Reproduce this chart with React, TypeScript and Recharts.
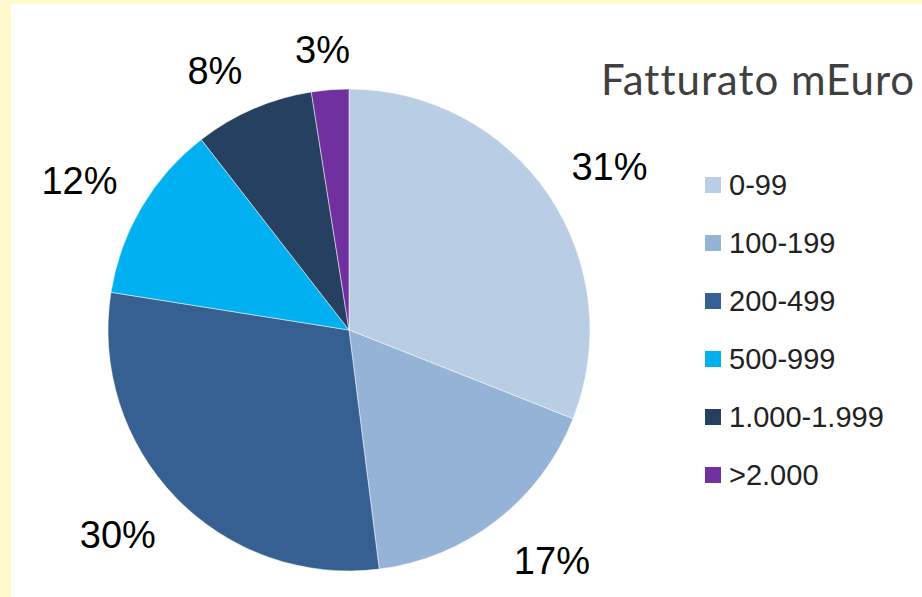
import React from 'react';
import { PieChart, Pie, Cell, Legend } from 'recharts';

const CATEGORIES = ['0-99', '100-199', '200-499', '500-999', '1.000-1.999', '>2.000'];
const SHARES = [31, 17, 29.5, 12, 8, 2.5];
const COLORS = ['#B9CDE5', '#95B3D7', '#376092', '#00B0F0', '#254061', '#7030A0'];
const TITLE = 'Fatturato mEuro';

const data = CATEGORIES.map((name, i) => ({ name, value: SHARES[i], fill: COLORS[i] }));

const RAD = Math.PI / 180;
const LABEL_SIZE = 38;

const clamp = (t: number) => Math.max(-1, Math.min(1, t));

// Excel-style "outside end" labels: anchor just past the rim, then slide the
// text box outward so its near corner sits on the anchor
const renderLabel = (props: any) => {
  const { cx, cy, midAngle, outerRadius, value } = props;
  const text = `${Math.round(value)}%`;
  const dx = Math.cos(-midAngle * RAD);
  const dy = Math.sin(-midAngle * RAD);
  const halfW = (((text.length - 1) * 0.556 + 0.889) * LABEL_SIZE) / 2;
  const halfH = 15;
  const r = outerRadius + 28;
  const x = cx + r * dx + clamp(dx * 2.5) * halfW;
  const y = cy + r * dy + clamp(dy * 2.5) * halfH + 3;
  return (
    <text
      x={x}
      y={y}
      textAnchor="middle"
      dominantBaseline="central"
      fill="#000"
      fontSize={LABEL_SIZE}
      fontFamily="'Liberation Sans', Arial, sans-serif"
    >
      {text}
    </text>
  );
};

const renderLegend = (props: any) => {
  const payload = [...(props.payload || [])].sort(
    (a: any, b: any) => CATEGORIES.indexOf(a.value) - CATEGORIES.indexOf(b.value)
  );
  return (
    <div style={{ fontFamily: "'Liberation Sans', Arial, sans-serif" }}>
      {payload.map((entry: any, i: number) => (
        <div key={i} style={{ display: 'flex', alignItems: 'center', height: 58 }}>
          <span style={{ width: 16, height: 16, background: entry.color, display: 'inline-block', marginRight: 8 }} />
          <span style={{ fontSize: 29, color: '#222' }}>{entry.value}</span>
        </div>
      ))}
    </div>
  );
};

export default function App() {
  return (
    <div style={{ position: 'absolute', left: 0, top: 0, width: 922, height: 597, background: '#FFF9CC', overflow: 'hidden' }}>
      <div style={{ position: 'absolute', left: 11, top: 4, right: 0, bottom: 0, background: '#fff' }} />
      <div
        style={{
          position: 'absolute',
          left: 601,
          top: 54,
          fontFamily: 'Lato, sans-serif',
          fontSize: 42,
          letterSpacing: 1,
          color: '#404040',
          whiteSpace: 'nowrap',
          lineHeight: '50px',
        }}
      >
        {TITLE}
      </div>
      <div style={{ position: 'absolute', left: 0, top: 0 }}>
        <PieChart width={922} height={597} margin={{ top: 0, right: 0, bottom: 0, left: 0 }}>
          <Pie
            data={data}
            dataKey="value"
            nameKey="name"
            cx={349}
            cy={330}
            outerRadius={241}
            startAngle={90}
            endAngle={-270}
            stroke="#fff"
            strokeWidth={0.5}
            label={renderLabel}
            labelLine={false}
            isAnimationActive={false}
          >
            {data.map((d, i) => (
              <Cell key={i} fill={COLORS[i]} />
            ))}
          </Pie>
          <Legend
            layout="vertical"
            itemSorter={null as any}
            content={renderLegend}
            wrapperStyle={{ position: 'absolute', left: 705, top: 156, width: 210 }}
          />
        </PieChart>
      </div>
    </div>
  );
}
